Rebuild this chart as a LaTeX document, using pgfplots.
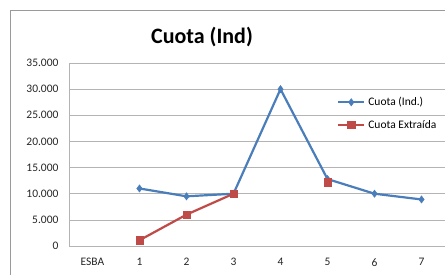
\documentclass[border=0pt]{standalone}
\usepackage{pgfplots}
\pgfplotsset{compat=1.18}
\usepackage{fontspec}
\setmainfont{Carlito}
\definecolor{xblue}{HTML}{4A7EBB}
\definecolor{xred}{HTML}{BE4B48}
\definecolor{xgrid}{HTML}{B4B4B4}
\definecolor{xframe}{HTML}{9A9A9A}
\begin{document}
\begin{tikzpicture}[x=1pt,y=1pt]
\useasboundingbox (0,0) rectangle (445,275);
\draw[color=xframe, line width=0.8pt] (10,0) -- (10,265) -- (446,265);
\node[font=\fontsize{22}{26}\bfseries\selectfont, text=black] at (202,238) {Cuota (Ind)};
\begin{axis}[at={(69pt,29pt)}, anchor=south west, scale only axis,
  width=376pt, height=183pt,
  xmin=-0.5, xmax=7.5, ymin=0, ymax=35000,
  xtick={0,...,7}, xticklabels={ESBA,1,2,3,4,5,6,7},
  ytick={0,5000,...,35000},
  /pgf/number format/.cd, 1000 sep={.}, assume math mode=true, /pgfplots/.cd,
  scaled y ticks=false,
  axis x line*=bottom, axis y line*=left,
  axis line style={xgrid, line width=0.8pt},
  ymajorgrids, grid style={xgrid, line width=0.7pt},
  tick style={draw=none},
  tick label style={font=\fontsize{11.5}{13}\selectfont, text=black!85},
  yticklabel style={xshift=-7pt},
  xticklabel style={yshift=-9pt},
  unbounded coords=jump,
  legend style={at={(0.71,0.83)}, anchor=north west, draw=none, fill=none,
    font=\fontsize{11.5}{13}\selectfont, row sep=9pt, inner sep=1pt,
    /tikz/every odd column/.append style={column sep=1pt}},
  legend cell align=left,
  legend image code/.code={\draw[#1, mark repeat=2, mark phase=2] plot coordinates {(0pt,0pt) (13pt,0pt) (26pt,0pt)};},
]
\addplot[xblue, line width=2.2pt, mark=diamond*, mark size=3.6pt, mark options={fill=xblue, line width=0.5pt}]
  coordinates {(1,11000) (2,9500) (3,10000) (4,30000) (5,12800) (6,10000) (7,8900)};
\addlegendentry{Cuota (Ind.)}
\addplot[xred, line width=2.2pt, mark=square*, mark size=3.6pt, mark options={fill=xred, line width=0.5pt}]
  coordinates {(1,1100) (2,6000) (3,10000) (4,nan) (5,12200)};
\addlegendentry{Cuota Extraída}
\end{axis}
\end{tikzpicture}
\end{document}
